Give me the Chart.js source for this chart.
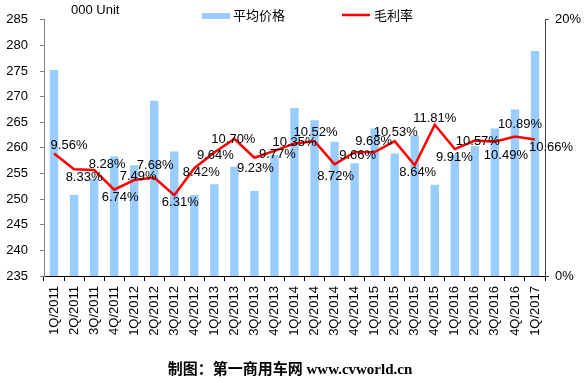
<!DOCTYPE html>
<html lang="zh">
<head>
  <meta charset="UTF-8">
  <title>平均价格与毛利率</title>
  <script src="https://cdn.jsdelivr.net/npm/chart.js"></script>
  <style>
    body { margin: 0; background: #fff; }
    canvas { display: block; }
  </style>
</head>
<body>
  <canvas id="chart" width="587" height="383"></canvas>
  <script>
    // data
    const quarters = ['1Q/2011','2Q/2011','3Q/2011','4Q/2011','1Q/2012','2Q/2012','3Q/2012','4Q/2012',
      '1Q/2013','2Q/2013','3Q/2013','4Q/2013','1Q/2014','2Q/2014','3Q/2014','4Q/2014',
      '1Q/2015','2Q/2015','3Q/2015','4Q/2015','1Q/2016','2Q/2016','3Q/2016','4Q/2016','1Q/2017'];
    const avgPrice = [275.2, 250.8, 254.0, 258.3, 256.6, 269.2, 259.3, 250.8,
      252.9, 256.3, 251.6, 258.6, 267.8, 265.4, 261.2, 257.0,
      263.8, 258.9, 262.4, 252.8, 258.7, 260.3, 263.8, 267.5, 278.9];
    const margin = [9.56, 8.33, 8.28, 6.74, 7.49, 7.68, 6.31, 8.42,
      9.64, 10.70, 9.23, 9.77, 10.35, 10.52, 8.72, 9.66,
      9.68, 10.53, 8.64, 11.81, 9.91, 10.57, 10.49, 10.89, 10.66];
    const priceTicks = [235, 285, 5];
    const marginTicks = [0, 20];

    // where each margin label sits relative to its point (px)
    const labelOffsets = [[15,-8],[10,8],[13,-6],[6,8],[4,-4],[1,-12],[6,7],[7,4],
      [1,3],[-1,0],[1,11],[3,4],[0,-1],[1,-9],[1,12],[3,3],
      [-1,-11],[1,-9],[3,7.5],[0,-6.5],[-0.5,8],[3,1],[11,14],[5,-12],[16,7.5]];

    const FONT = 'Arial, "Liberation Sans", sans-serif';
    const CJK = '"Noto Sans CJK SC", sans-serif';

    const extras = {
      id: 'extras',
      afterDatasetsDraw(chart) {
        const ctx = chart.ctx;
        const meta = chart.getDatasetMeta(1);
        ctx.save();
        ctx.font = '13px ' + FONT;
        ctx.fillStyle = '#000';
        ctx.textAlign = 'center';
        ctx.textBaseline = 'middle';
        meta.data.forEach((pt, i) => {
          const o = labelOffsets[i];
          ctx.fillText(margin[i].toFixed(2) + '%', pt.x + o[0], pt.y + o[1]);
        });
        ctx.restore();
      },
      afterDraw(chart) {
        const ctx = chart.ctx;
        ctx.save();
        ctx.textBaseline = 'middle';
        ctx.fillStyle = '#000';
        ctx.font = '13px ' + FONT;
        ctx.textAlign = 'left';
        ctx.fillText('000 Unit', 71, 10);

        // legend
        ctx.fillStyle = '#99CCFF';
        ctx.fillRect(202, 13, 28, 6);
        ctx.fillStyle = '#000';
        ctx.font = '13px ' + CJK;
        ctx.fillText(chart.data.datasets[0].label, 233, 15);
        ctx.strokeStyle = '#FF0000';
        ctx.lineWidth = 2.5;
        ctx.beginPath();
        ctx.moveTo(342, 15);
        ctx.lineTo(370, 15);
        ctx.stroke();
        ctx.fillText(chart.data.datasets[1].label, 374, 15);

        // source note
        ctx.font = 'bold 15px "Liberation Serif", "Noto Sans CJK SC", serif';
        ctx.textAlign = 'center';
        ctx.fillText('制图：第一商用车网 www.cvworld.cn', 290, 370);
        ctx.restore();
      }
    };

    new Chart(document.getElementById('chart'), {
      type: 'bar',
      data: {
        labels: quarters,
        datasets: [{
          type: 'bar',
          label: '平均价格',
          data: avgPrice,
          yAxisID: 'y',
          backgroundColor: '#99CCFF',
          barPercentage: 0.42,
          categoryPercentage: 1,
          order: 1
        }, {
          type: 'line',
          label: '毛利率',
          data: margin,
          yAxisID: 'y1',
          borderColor: '#FF0000',
          borderWidth: 2.5,
          pointRadius: 0,
          tension: 0,
          order: 0
        }]
      },
      options: {
        responsive: false,
        animation: false,
        layout: { padding: { top: 11, left: 0, right: 0, bottom: 0 } },
        plugins: { legend: { display: false }, tooltip: { enabled: false } },
        scales: {
          x: {
            afterFit(s) { s.height = 107; },
            grid: { offset: true, drawOnChartArea: false, tickLength: 5, color: '#000' },
            border: { color: '#000', width: 1 },
            ticks: { font: { size: 13, family: FONT }, color: '#000', minRotation: 90, maxRotation: 90, padding: 5, autoSkip: false }
          },
          y: {
            position: 'left',
            min: priceTicks[0], max: priceTicks[1],
            afterFit(s) { s.width = 44; },
            grid: { drawOnChartArea: false, tickLength: 4, color: '#808080' },
            border: { color: '#808080', width: 1 },
            ticks: { stepSize: priceTicks[2], font: { size: 13, family: FONT }, color: '#000', padding: 12 }
          },
          y1: {
            position: 'right',
            min: marginTicks[0], max: marginTicks[1],
            afterFit(s) { s.width = 42; },
            grid: { drawOnChartArea: false, tickLength: 4, color: '#404040' },
            border: { color: '#404040', width: 1 },
            ticks: { stepSize: 20, font: { size: 13, family: FONT }, color: '#000', padding: 6,
              callback: v => v + '%' }
          }
        }
      },
      plugins: [extras]
    });
  </script>
</body>
</html>
